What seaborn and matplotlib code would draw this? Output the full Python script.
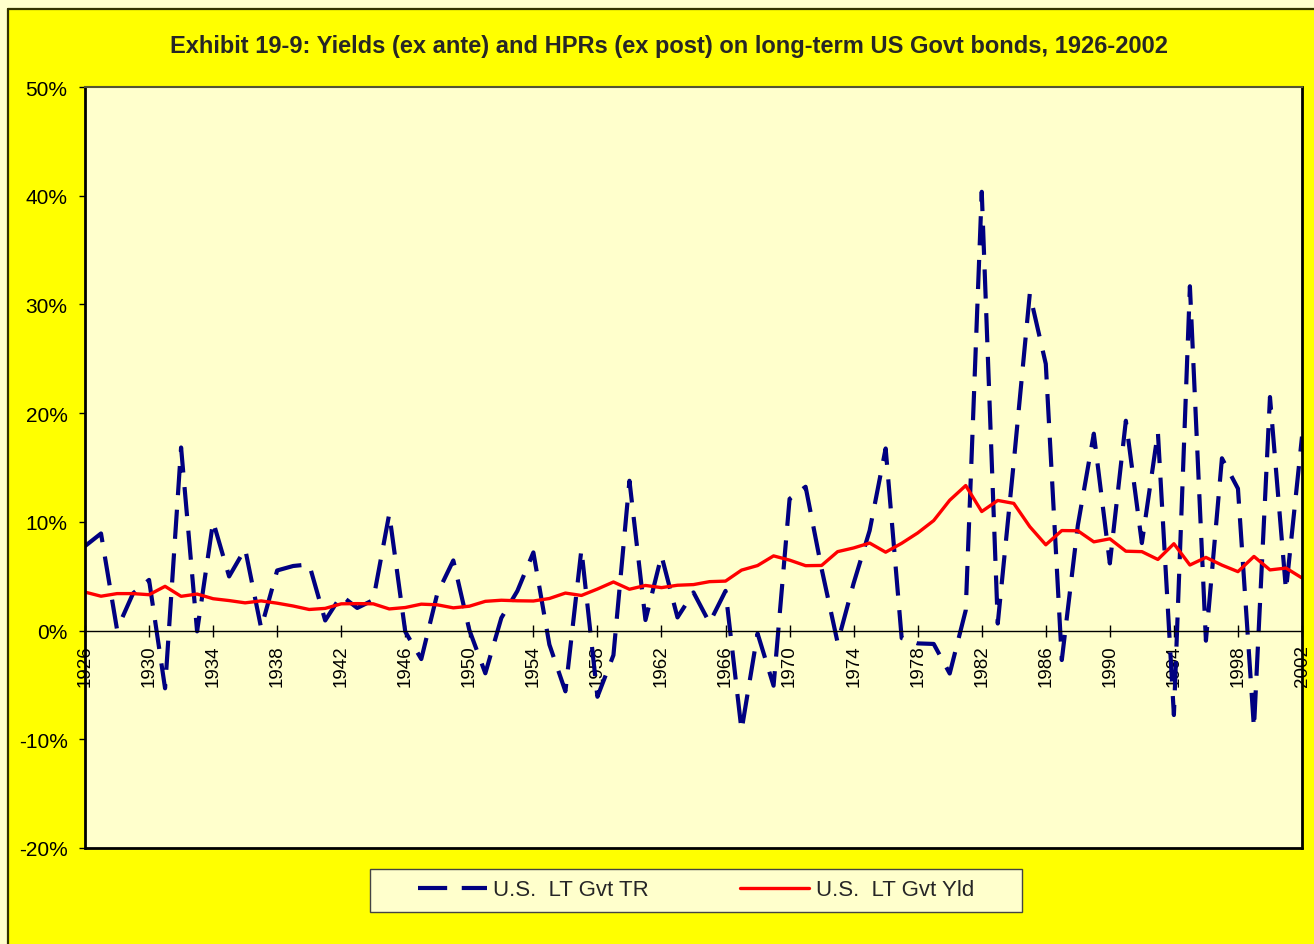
import matplotlib
matplotlib.use('Agg')
import matplotlib.pyplot as plt
import seaborn as sns
import pandas as pd
from matplotlib.ticker import FuncFormatter
from matplotlib.patches import Rectangle
from matplotlib.lines import Line2D

# Long-term US Govt bonds, 1926-2002 (values in %)
years = list(range(1926, 2003))

lt_govt_tr = [7.77, 8.93, 0.10, 3.42, 4.66, -5.31, 16.84, -0.07, 10.03, 4.98,
              7.52, 0.23, 5.53, 5.94, 6.09, 0.93, 3.22, 2.08, 2.81, 10.73,
              -0.10, -2.62, 3.40, 6.45, 0.06, -3.93, 1.16, 3.64, 7.19, -1.29,
              -5.59, 7.46, -6.09, -2.26, 13.78, 0.97, 6.89, 1.21, 3.51, 0.71,
              3.65, -9.18, -0.26, -5.07, 12.11, 13.23, 5.69, -1.11, 4.35, 9.20,
              16.75, -0.69, -1.18, -1.23, -3.95, 1.86, 40.36, 0.65, 15.48, 30.97,
              24.53, -2.71, 9.67, 18.11, 6.18, 19.30, 8.05, 18.24, -7.77, 31.67,
              -0.93, 15.85, 13.06, -8.96, 21.48, 3.70, 17.84]

lt_govt_yld = [3.54, 3.16, 3.40, 3.40, 3.30, 4.07, 3.15, 3.36, 2.93, 2.76,
               2.55, 2.73, 2.52, 2.26, 1.94, 2.04, 2.46, 2.48, 2.46, 1.99,
               2.12, 2.43, 2.37, 2.09, 2.24, 2.69, 2.79, 2.74, 2.72, 2.95,
               3.45, 3.23, 3.82, 4.47, 3.80, 4.15, 3.95, 4.17, 4.23, 4.50,
               4.55, 5.56, 5.98, 6.87, 6.48, 5.97, 5.99, 7.26, 7.60, 8.05,
               7.21, 8.03, 8.98, 10.12, 11.99, 13.34, 10.95, 11.97, 11.70, 9.56,
               7.89, 9.20, 9.18, 8.16, 8.44, 7.30, 7.26, 6.54, 7.99, 6.03,
               6.73, 6.02, 5.42, 6.82, 5.58, 5.75, 4.84]

series_labels = ['U.S.  LT Gvt TR', 'U.S.  LT Gvt Yld']
year_ticks = list(range(1926, 2003, 4))
pct_ticks = [-20, -10, 0, 10, 20, 30, 40, 50]

df = pd.DataFrame({'Year': years, 'TR': lt_govt_tr, 'Yld': lt_govt_yld})

sns.set_style('white')
plt.rcParams['font.family'] = ['Liberation Sans', 'DejaVu Sans']

navy = '#000080'
red = '#FF0000'
tr_dash = (7, 3.5)
W, H = 1314, 945

fig = plt.figure(figsize=(13.14, 9.45), dpi=100, facecolor='#FFFF00')

# pale strip + dark edge of the chart area (top and left)
fig.add_artist(Rectangle((0, 0), 7 / W, 1, transform=fig.transFigure,
                         facecolor='#FFFFCC', edgecolor='none', zorder=-2))
fig.add_artist(Rectangle((0, 1 - 9 / H), 1, 9 / H, transform=fig.transFigure,
                         facecolor='#FFFFCC', edgecolor='none', zorder=-2))
fig.add_artist(Line2D([7.5 / W, 7.5 / W], [0, 1 - 10 / H],
                      transform=fig.transFigure, color='#333300', lw=1.6))
fig.add_artist(Line2D([7.5 / W, 1], [1 - 10 / H, 1 - 10 / H],
                      transform=fig.transFigure, color='#333300', lw=1.6))

ax = fig.add_axes([85 / W, 1 - 849 / H, 1217 / W, 761 / H])
ax.set_facecolor('#FFFFCC')

sns.lineplot(data=df, x='Year', y='TR', ax=ax, color=navy, lw=3, legend=False)
sns.lineplot(data=df, x='Year', y='Yld', ax=ax, color=red, lw=2.4, legend=False)
ax.lines[0].set_dashes(tr_dash)

ax.set_xlim(1926, 2002)
ax.set_ylim(-20, 50)
ax.set_xticks(year_ticks)
ax.set_yticks(pct_ticks)
ax.yaxis.set_major_formatter(FuncFormatter(lambda v, p: f'{v:.0f}%'))
ax.set_xlabel('')
ax.set_ylabel('')

ax.tick_params(axis='x', bottom=True, direction='inout', length=8, width=1,
               pad=6, labelsize=13.5, labelrotation=90, colors='black')
ax.tick_params(axis='y', left=True, direction='out', length=4.5, width=1,
               pad=8, labelsize=15, colors='black')

# x axis sits on the 0% line, frame drawn separately
ax.spines['bottom'].set_position(('data', 0))
ax.spines['bottom'].set_linewidth(1)
ax.spines['bottom'].set_color('black')
ax.spines['left'].set_linewidth(2)
ax.spines['left'].set_color('black')
ax.spines['right'].set_linewidth(2)
ax.spines['right'].set_color('black')
ax.spines['top'].set_linewidth(1.5)
ax.spines['top'].set_color('#555533')
ax.axhline(-20, color='black', lw=2, clip_on=False)

fig.text(669 / W, 1 - 47 / H,
         'Exhibit 19-9: Yields (ex ante) and HPRs (ex post) on long-term US Govt bonds, 1926-2002',
         ha='center', va='center', fontsize=17, fontweight='bold')

# legend box (drawn behind the legend entries)
fig.add_artist(Rectangle((370 / W, 1 - 913 / H), 652 / W, 43 / H,
                         transform=fig.transFigure, facecolor='#FFFFCC',
                         edgecolor='#444444', lw=1, zorder=-1))
handles = [Line2D([], [], color=navy, lw=3, dashes=tr_dash),
           Line2D([], [], color=red, lw=2.4)]
leg = fig.legend(handles, series_labels, loc='center',
                 bbox_to_anchor=(696 / W, 1 - 891 / H),
                 ncol=2, frameon=False, fontsize=16, handlelength=3.1,
                 handletextpad=0.3, columnspacing=4.1, borderpad=0)
leg.set_zorder(5)

fig.savefig('out.png', dpi=100, facecolor=fig.get_facecolor())
